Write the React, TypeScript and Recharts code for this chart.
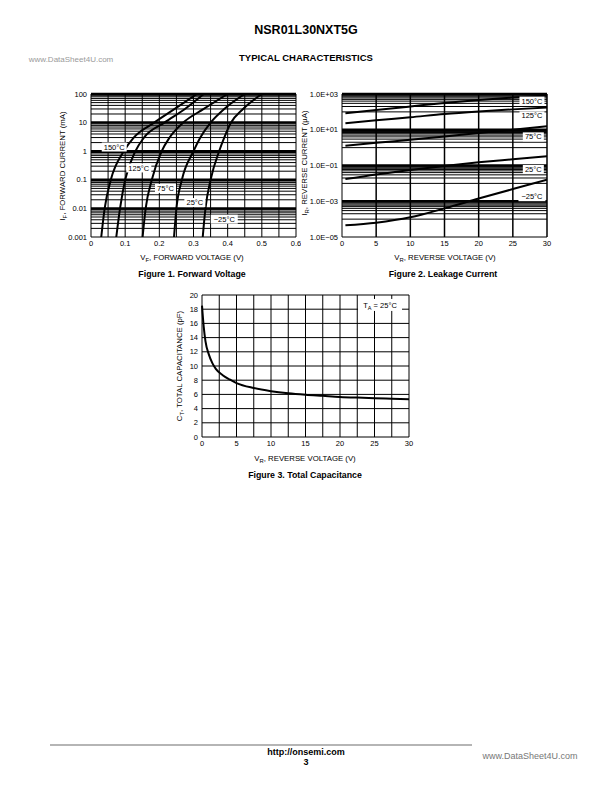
import React from 'react'
import { LineChart, Line, XAxis, YAxis, ReferenceLine, ReferenceDot } from 'recharts'

const FONT = '"Liberation Sans", Arial, Helvetica, sans-serif'

// Figure 1 – forward voltage (V) at fixed forward currents (mA)
const F1_CURRENT = [0.001, 0.01, 0.1, 1, 3, 10, 30, 100]
const F1_V_150 = [0.03, 0.04, 0.058, 0.096, 0.125, 0.185, 0.245, 0.31]
const F1_V_125 = [0.074, 0.085, 0.1, 0.13, 0.155, 0.215, 0.275, 0.33]
const F1_V_75 = [0.151, 0.16, 0.178, 0.207, 0.23, 0.27, 0.33, 0.4]
const F1_V_25 = [0.243, 0.25, 0.266, 0.3, 0.32, 0.35, 0.39, 0.45]
const F1_V_M25 = [0.327, 0.335, 0.35, 0.375, 0.39, 0.41, 0.445, 0.5]
const F1_X_TICKS = [0, 0.1, 0.2, 0.3, 0.4, 0.5, 0.6]
const F1_X_GRID = [0.05, 0.1, 0.15, 0.2, 0.25, 0.3, 0.35, 0.4, 0.45, 0.5, 0.55, 0.6]
const F1_Y_TICKS = [0.001, 0.01, 0.1, 1, 10, 100]
const F1_Y_LABELS = ['0.001', '0.01', '0.1', '1', '10', '100']

// Figure 2 – reverse current (uA) vs reverse voltage (V)
const F2_VOLTAGE = [0.5, 5, 10, 15, 20, 25, 30]
const F2_I_150 = [83, 126, 200, 316, 460, 630, 830]
const F2_I_125 = [23, 34, 50, 76, 105, 138, 178]
const F2_I_75 = [1.26, 1.86, 2.75, 4.17, 6.6, 10, 15.8]
const F2_I_25 = [0.0174, 0.0316, 0.056, 0.095, 0.151, 0.224, 0.33]
const F2_I_M25 = [0.000045, 0.000063, 0.000126, 0.0004, 0.00141, 0.0048, 0.0158]
const F2_X_TICKS = [0, 5, 10, 15, 20, 25, 30]
const F2_Y_TICKS = [1e-5, 1e-3, 1e-1, 1e1, 1e3]
const F2_Y_LABELS = ['1.0E\u221205', '1.0E\u221203', '1.0E\u221201', '1.0E+01', '1.0E+03']
// decades whose minor lines are drawn (the one just under each labelled decade)
const F2_MINOR_DECADES = [1e-4, 1e-2, 1, 100]

// Figure 3 – total capacitance (pF) vs reverse voltage (V)
const F3_VOLTAGE = [0, 0.25, 0.5, 1, 1.5, 2, 3, 4, 5, 7.5, 10, 12.5, 15, 17.5, 20, 22.5, 25, 27.5, 30]
const F3_CAP = [18.5, 15.5, 13.5, 11.6, 10.4, 9.6, 8.7, 8.1, 7.6, 6.9, 6.45, 6.15, 5.95, 5.8, 5.65, 5.55, 5.47, 5.4, 5.33]
const F3_X_TICKS = [0, 5, 10, 15, 20, 25, 30]
const F3_X_GRID = [2.5, 5, 7.5, 10, 12.5, 15, 17.5, 20, 22.5, 25, 27.5, 30]
const F3_Y_TICKS = [0, 2, 4, 6, 8, 10, 12, 14, 16, 18, 20]

const MINOR = [2, 3, 4, 5, 6, 7, 8, 9]
const minorLines = (decades: number[]) => decades.flatMap((d) => MINOR.map((k) => k * d))

const tickStyle = { fontSize: 7.5, fill: '#000' }

function Txt({ x, y, size = 7, bold = false, color = '#000', rotate = 0, children }: any) {
  return (
    <div
      style={{
        position: 'absolute',
        left: x,
        top: y,
        transform: `translate(-50%, -50%) rotate(${rotate}deg)`,
        fontSize: size,
        fontWeight: bold ? 700 : 400,
        color,
        whiteSpace: 'nowrap',
        lineHeight: 1,
      }}
    >
      {children}
    </div>
  )
}

const Sub = ({ children }: any) => (
  <span style={{ fontSize: '0.75em', verticalAlign: '-0.3em', lineHeight: 0 }}>{children}</span>
)

// white boxed tag drawn at a data point
const tag = (text: string, w: number) => (p: any) => (
  <g>
    <rect x={p.cx - w / 2} y={p.cy - 4.5} width={w} height={9} fill="#fff" />
    <text x={p.cx} y={p.cy} dy="0.35em" textAnchor="middle" fontSize={7.5} fill="#000">
      {text}
    </text>
  </g>
)

const taTag = (p: any) => (
  <g>
    <rect x={p.cx - 22} y={p.cy - 6} width={44} height={12} fill="#fff" />
    <text x={p.cx} y={p.cy} dy="0.35em" textAnchor="middle" fontSize={7.5} fill="#000">
      T<tspan fontSize={5.5} dy={2}>A</tspan>
      <tspan dy={-2}> = 25{'\u00B0'}C</tspan>
    </text>
  </g>
)

function ForwardChart() {
  const yw = 30
  const series = [F1_V_150, F1_V_125, F1_V_75, F1_V_25, F1_V_M25].map((vs) =>
    F1_CURRENT.map((i, k) => ({ v: vs[k], i }))
  )
  return (
    <div style={{ position: 'absolute', left: 91 - yw, top: 84 }}>
      <LineChart width={205 + yw + 5} height={143 + 10 + 14} margin={{ top: 10, right: 5, bottom: 0, left: 0 }}>
        <XAxis
          dataKey="v"
          type="number"
          domain={[0, 0.6]}
          ticks={F1_X_TICKS}
          interval={0}
          allowDataOverflow
          tickLine={false}
          tickSize={2}
          tickMargin={2}
          height={14}
          axisLine={{ stroke: '#000' }}
          tick={tickStyle}
        />
        <YAxis
          type="number"
          scale="log"
          domain={[0.001, 100]}
          ticks={F1_Y_TICKS}
          interval={0}
          allowDataOverflow
          tickFormatter={(v: number) => F1_Y_LABELS[F1_Y_TICKS.indexOf(v)] ?? ''}
          tickLine={false}
          tickSize={2}
          tickMargin={2}
          width={yw}
          axisLine={{ stroke: '#000' }}
          tick={tickStyle}
        />
        {minorLines([0.001, 0.01, 0.1, 1, 10]).map((y) => (
          <ReferenceLine key={'m' + y} y={y} stroke="#000" strokeWidth={1} />
        ))}
        {F1_Y_TICKS.slice(1).map((y) => (
          <ReferenceLine key={'d' + y} y={y} stroke="#000" strokeWidth={2.5} />
        ))}
        {F1_X_GRID.map((x) => (
          <ReferenceLine key={'x' + x} x={x} stroke="#000" strokeWidth={1} />
        ))}
        {series.map((d, k) => (
          <Line
            key={k}
            data={d}
            dataKey="i"
            type="monotone"
            stroke="#000"
            strokeWidth={2}
            dot={false}
            isAnimationActive={false}
          />
        ))}
        <ReferenceDot x={0.068} y={1.4} r={1} shape={tag('150\u00B0C', 25)} />
        <ReferenceDot x={0.14} y={0.26} r={1} shape={tag('125\u00B0C', 25)} />
        <ReferenceDot x={0.218} y={0.05} r={1} shape={tag('75\u00B0C', 21)} />
        <ReferenceDot x={0.304} y={0.016} r={1} shape={tag('25\u00B0C', 21)} />
        <ReferenceDot x={0.39} y={0.0042} r={1} shape={tag('\u221225\u00B0C', 27)} />
      </LineChart>
    </div>
  )
}

function LeakageChart() {
  const yw = 34
  const lists = [F2_I_150, F2_I_125, F2_I_75, F2_I_25, F2_I_M25]
  const series = lists.map((is) => F2_VOLTAGE.map((v, k) => ({ v, i: is[k] })))
  return (
    <div style={{ position: 'absolute', left: 342 - yw, top: 84 }}>
      <LineChart width={205 + yw + 5} height={143 + 10 + 14} margin={{ top: 10, right: 5, bottom: 0, left: 0 }}>
        <XAxis
          dataKey="v"
          type="number"
          domain={[0, 30]}
          ticks={F2_X_TICKS}
          interval={0}
          allowDataOverflow
          tickLine={false}
          tickSize={2}
          tickMargin={2}
          height={14}
          axisLine={{ stroke: '#000' }}
          tick={tickStyle}
        />
        <YAxis
          type="number"
          scale="log"
          domain={[1e-5, 1e3]}
          ticks={F2_Y_TICKS}
          interval={0}
          allowDataOverflow
          tickFormatter={(v: number) => F2_Y_LABELS[F2_Y_TICKS.indexOf(v)] ?? ''}
          tickLine={false}
          tickSize={2}
          tickMargin={2}
          width={yw}
          axisLine={{ stroke: '#000' }}
          tick={tickStyle}
        />
        {minorLines(F2_MINOR_DECADES).map((y) => (
          <ReferenceLine key={'m' + y} y={y} stroke="#000" strokeWidth={1} />
        ))}
        {F2_MINOR_DECADES.map((y) => (
          <ReferenceLine key={'u' + y} y={y} stroke="#000" strokeWidth={1} />
        ))}
        {F2_Y_TICKS.slice(1).map((y) => (
          <ReferenceLine key={'d' + y} y={y} stroke="#000" strokeWidth={2.5} />
        ))}
        {F2_X_TICKS.slice(1).map((x) => (
          <ReferenceLine key={'x' + x} x={x} stroke="#000" strokeWidth={1.5} />
        ))}
        {series.map((d, k) => (
          <Line
            key={k}
            data={d}
            dataKey="i"
            type="monotone"
            stroke="#000"
            strokeWidth={2}
            dot={false}
            isAnimationActive={false}
          />
        ))}
        <ReferenceDot x={27.8} y={400} r={1} shape={tag('150\u00B0C', 25)} />
        <ReferenceDot x={27.8} y={60} r={1} shape={tag('125\u00B0C', 25)} />
        <ReferenceDot x={28} y={4} r={1} shape={tag('75\u00B0C', 21)} />
        <ReferenceDot x={28} y={0.06} r={1} shape={tag('25\u00B0C', 21)} />
        <ReferenceDot x={27.8} y={0.0018} r={1} shape={tag('\u221225\u00B0C', 27)} />
      </LineChart>
    </div>
  )
}

function CapChart() {
  const yw = 16
  const data = F3_VOLTAGE.map((v, k) => ({ v, c: F3_CAP[k] }))
  return (
    <div style={{ position: 'absolute', left: 202 - yw, top: 285 }}>
      <LineChart width={207 + yw + 5} height={142 + 10 + 14} data={data} margin={{ top: 10, right: 5, bottom: 0, left: 0 }}>
        <XAxis
          dataKey="v"
          type="number"
          domain={[0, 30]}
          ticks={F3_X_TICKS}
          interval={0}
          tickLine={false}
          tickSize={2}
          tickMargin={2}
          height={14}
          axisLine={{ stroke: '#000' }}
          tick={tickStyle}
        />
        <YAxis
          type="number"
          domain={[0, 20]}
          ticks={F3_Y_TICKS}
          interval={0}
          tickLine={false}
          tickSize={2}
          tickMargin={2}
          width={yw}
          axisLine={{ stroke: '#000' }}
          tick={tickStyle}
        />
        {F3_Y_TICKS.slice(1).map((y) => (
          <ReferenceLine key={'y' + y} y={y} stroke="#000" strokeWidth={1} />
        ))}
        {F3_X_GRID.map((x) => (
          <ReferenceLine key={'x' + x} x={x} stroke="#000" strokeWidth={1} />
        ))}
        <Line dataKey="c" type="monotone" stroke="#000" strokeWidth={2} dot={false} isAnimationActive={false} />
        <ReferenceDot x={25.8} y={18.6} r={1} shape={taTag} />
      </LineChart>
    </div>
  )
}

export default function App() {
  return (
    <div
      style={{
        position: 'absolute',
        left: 0,
        top: 0,
        width: 612,
        height: 792,
        background: '#fff',
        fontFamily: FONT,
        color: '#000',
        overflow: 'hidden',
      }}
    >
      <Txt x={306} y={30} size={12.5} bold>NSR01L30NXT5G</Txt>
      <Txt x={306} y={58} size={9.5} bold>TYPICAL CHARACTERISTICS</Txt>
      <Txt x={71} y={60} size={8} color="#9a9a9a">www.DataSheet4U.com</Txt>

      <ForwardChart />
      <LeakageChart />
      <CapChart />

      <Txt x={63} y={166} size={7.8} rotate={-90}>
        I<Sub>F</Sub>, FORWARD CURRENT (mA)
      </Txt>
      <Txt x={192} y={258} size={7.8}>
        V<Sub>F</Sub>, FORWARD VOLTAGE (V)
      </Txt>
      <Txt x={192} y={274} size={8.8} bold>Figure 1. Forward Voltage</Txt>

      <Txt x={305} y={163} size={7.8} rotate={-90}>
        I<Sub>R</Sub>, REVERSE CURRENT ({'\u00B5'}A)
      </Txt>
      <Txt x={445} y={258} size={7.8}>
        V<Sub>R</Sub>, REVERSE VOLTAGE (V)
      </Txt>
      <Txt x={443} y={274} size={8.8} bold>Figure 2. Leakage Current</Txt>

      <Txt x={180} y={366} size={7.8} rotate={-90}>
        C<Sub>T</Sub>, TOTAL CAPACITANCE (pF)
      </Txt>
      <Txt x={305} y={459} size={7.8}>
        V<Sub>R</Sub>, REVERSE VOLTAGE (V)
      </Txt>
      <Txt x={305} y={475} size={8.8} bold>Figure 3. Total Capacitance</Txt>

      <div style={{ position: 'absolute', left: 50, top: 744, width: 422, height: 1.5, background: '#b5b5b5' }} />
      <Txt x={306} y={752} size={9} bold>http://onsemi.com</Txt>
      <Txt x={306} y={762} size={9} bold>3</Txt>
      <Txt x={530} y={756} size={9} color="#777">www.DataSheet4U.com</Txt>
    </div>
  )
}
